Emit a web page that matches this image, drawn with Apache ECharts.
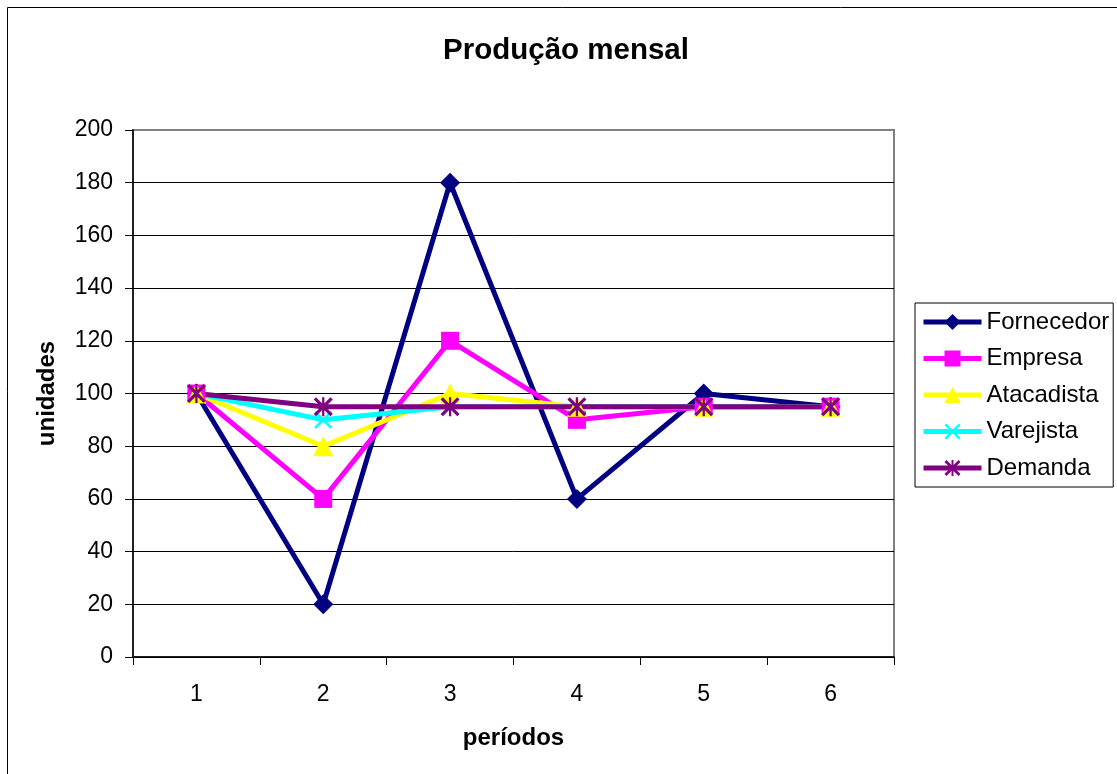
<!DOCTYPE html>
<html>
<head>
<meta charset="utf-8">
<script src="https://cdn.jsdelivr.net/npm/echarts@6/dist/echarts.min.js"></script>
<style>
  html, body { margin: 0; padding: 0; background: #fff; }
  #chart { width: 1117px; height: 774px; }
</style>
</head>
<body>
<div id="chart"></div>
<script>
// Períodos (eixo X) e escala de unidades (eixo Y)
const periodos = ['1', '2', '3', '4', '5', '6'];
const yTicks = [0, 20, 40, 60, 80, 100, 120, 140, 160, 180, 200];

// Produção mensal por elo da cadeia
const fornecedor = [100, 20, 180, 60, 100, 95];
const empresa    = [100, 60, 120, 90, 95, 95];
const atacadista = [100, 80, 100, 95, 95, 95];
const varejista  = [100, 90, 95, 95, 95, 95];
const demanda    = [100, 95, 95, 95, 95, 95];

const FONT = "'Liberation Sans', Arial, sans-serif";

// Marcadores desenhados como polígonos preenchidos (X e asterisco)
const xMark = 'path://M0,1L1,0L10,9L9,10ZM9,0L10,1L1,10L0,9Z';
const asterisk = 'path://M0,1.2L1.2,0L10,8.8L8.8,10ZM8.8,0L10,1.2L1.2,10L0,8.8ZM4.4,0L5.6,0L5.6,10L4.4,10Z';

function serie(name, data, color, symbol, size) {
  return {
    name: name,
    type: 'line',
    data: data,
    symbol: symbol,
    symbolSize: size,
    showAllSymbol: true,
    color: color,
    lineStyle: { color: color, width: 5 },
    itemStyle: { color: color },
    emphasis: { disabled: true }
  };
}

const splitColors = yTicks.map((v, i) => i === yTicks.length - 1 ? '#808080' : '#000000');

const chart = echarts.init(document.getElementById('chart'), null, { renderer: 'canvas' });
chart.setOption({
  animation: false,
  backgroundColor: '#ffffff',
  textStyle: { fontFamily: FONT, color: '#000' },
  title: {
    text: 'Produção mensal',
    left: 561,
    textAlign: 'center',
    top: 31,
    textStyle: { fontFamily: FONT, fontSize: 29.5, fontWeight: 'bold', color: '#000' }
  },
  graphic: [{
    type: 'rect',
    shape: { x: 7.5, y: 7.5, width: 1300, height: 1000 },
    style: { fill: 'none', stroke: '#000', lineWidth: 1 },
    silent: true,
    z: -1
  }],
  legend: {
    orient: 'vertical',
    left: 915,
    top: 303,
    padding: [7, 4, 7, 6],
    itemWidth: 58,
    itemHeight: 20,
    itemGap: 12.5,
    borderColor: '#000',
    borderWidth: 1,
    backgroundColor: '#fff',
    lineStyle: { width: 5 },
    textStyle: { fontFamily: FONT, fontSize: 24, color: '#000', padding: [0, 0, 0, 0] },
    data: ['Fornecedor', 'Empresa', 'Atacadista', 'Varejista', 'Demanda']
  },
  grid: {
    left: 133,
    top: 130,
    right: 223,
    bottom: 117,
    show: true,
    borderColor: '#808080',
    borderWidth: 2,
    backgroundColor: '#fff'
  },
  xAxis: {
    type: 'category',
    data: periodos,
    boundaryGap: true,
    name: 'períodos',
    nameLocation: 'middle',
    nameGap: 69,
    nameTextStyle: { fontFamily: FONT, fontSize: 24, fontWeight: 'bold', color: '#000' },
    axisLine: { show: true, lineStyle: { color: '#000', width: 1.5 } },
    axisTick: { show: true, alignWithLabel: false, inside: false, length: 8, lineStyle: { color: '#000' } },
    axisLabel: { fontFamily: FONT, fontSize: 23, color: '#000', margin: 26 },
    splitLine: { show: false }
  },
  yAxis: {
    type: 'value',
    min: 0,
    max: 200,
    interval: 20,
    name: 'unidades',
    nameLocation: 'middle',
    nameGap: 74,
    nameTextStyle: { fontFamily: FONT, fontSize: 24, fontWeight: 'bold', color: '#000' },
    axisLine: { show: true, lineStyle: { color: '#000', width: 1.5 } },
    axisTick: { show: true, inside: false, length: 8, lineStyle: { color: '#000' } },
    axisLabel: { fontFamily: FONT, fontSize: 23, color: '#000', margin: 20 },
    splitLine: { show: true, lineStyle: { color: splitColors, width: 1 } }
  },
  series: [
    serie('Fornecedor', fornecedor, '#000080', 'diamond', 20),
    serie('Empresa', empresa, '#FF00FF', 'rect', 18),
    serie('Atacadista', atacadista, '#FFFF00', 'triangle', 20),
    serie('Varejista', varejista, '#00FFFF', xMark, 18),
    serie('Demanda', demanda, '#800080', asterisk, 19)
  ]
});
</script>
</body>
</html>
